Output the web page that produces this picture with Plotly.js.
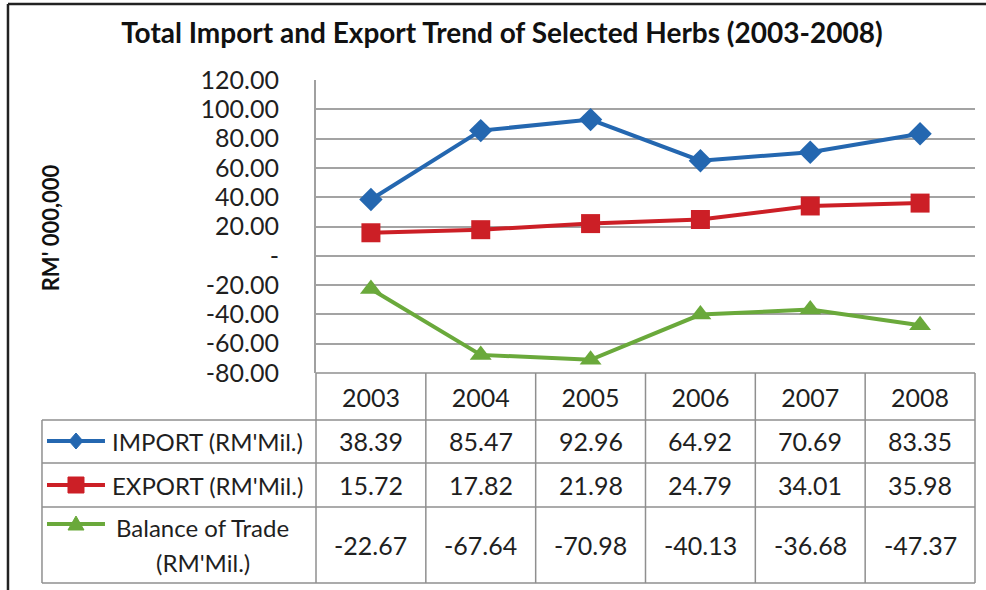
<!DOCTYPE html>
<html><head><meta charset="utf-8">
<script src="https://cdn.plot.ly/plotly-3.0.1.min.js"></script>
<style>body{margin:0;background:#fff}</style></head><body>
<div id="chart" style="width:986px;height:590px"></div>
<script>
const years = ['2003','2004','2005','2006','2007','2008'];
const importVals = [38.39, 85.47, 92.96, 64.92, 70.69, 83.35];
const exportVals = [15.72, 17.82, 21.98, 24.79, 34.01, 35.98];
const balanceVals = [-22.67, -67.64, -70.98, -40.13, -36.68, -47.37];
const seriesNames = ["IMPORT (RM'Mil.)", "EXPORT (RM'Mil.)", "Balance of Trade", "(RM'Mil.)"];
const yTickVals = [120, 100, 80, 60, 40, 20, 0, -20, -40, -60, -80];
const yTickText = ['120.00','100.00','80.00','60.00','40.00','20.00','-','-20.00','-40.00','-60.00','-80.00'];

const FONT = 'Lato, "Open Sans", sans-serif';
const colors = ['#2467b0', '#cc1f26', '#6aa93b'];
const TXT = '#1f1f1f';
const GRID = '#a3a3a3';
const TBL = '#8f8f8f';

const allVals = [importVals, exportVals, balanceVals];
const symbols = ['diamond', 'square', 'triangle-up'];
const sizes = [18, 19, 19];

const traces = allVals.map((v, s) => ({
  type: 'scatter', mode: 'lines+markers', x: years, y: v,
  name: seriesNames[s], showlegend: false, cliponaxis: false,
  line: {color: colors[s], width: 4},
  marker: {symbol: symbols[s], size: sizes[s], color: colors[s]}
}));

// table geometry (paper fractions)
const rowY = [-0.2321, -0.3823, -0.587];
const hLines = [-0.160, -0.307, -0.457, -0.717];
const tblLeft = -0.4158;
const shapes = [];
const ln = (x0, y0, x1, y1, color, w) => shapes.push({type:'line', xref:'paper', yref:'paper', x0, y0, x1, y1, line:{color, width:w}, layer:'above'});
ln(0, 0, 1, 0, TBL, 1.5);
hLines.forEach(y => ln(tblLeft, y, 1, y, TBL, 1.5));
ln(tblLeft, hLines[0], tblLeft, hLines[3], TBL, 1.5);
for (let k = 0; k <= years.length; k++) ln(k / years.length, 0, k / years.length, hLines[3], TBL, 1.5);
// outer frame
ln(-0.4674, 1.2594, -0.4674, -0.77, '#222', 2.5);
ln(-0.4674, 1.2594, 1.05, 1.2594, '#222', 2.5);

// legend keys inside table
const keyY = [rowY[0], rowY[1], -0.5154];
const keyX0 = -0.4082, keyX1 = -0.3202, keyXc = -0.3642;
const keyPaths = ['M0,8L7,0L0,-8L-7,0Z', 'M-8,-8L8,-8L8,8L-8,8Z', 'M-8,-6L8,-6L0,8Z'];
keyY.forEach((y, s) => {
  shapes.push({type:'line', xref:'paper', yref:'paper', x0:keyX0, x1:keyX1, y0:y, y1:y, line:{color:colors[s], width:4}, layer:'above'});
  shapes.push({type:'path', xref:'paper', yref:'paper', xsizemode:'pixel', ysizemode:'pixel', xanchor:keyXc, yanchor:y,
    path: keyPaths[s], fillcolor: colors[s], line:{color:colors[s], width:1}, layer:'above'});
});

const annotations = [];
allVals.forEach((v, s) => v.forEach((val, i) => annotations.push({
  x: i, xref:'x', xanchor:'center', y: rowY[s], yref:'paper', yanchor:'middle', text: val.toFixed(2), showarrow:false,
  font:{family:FONT, size:25, color:TXT}
})));
const lab = (x, y, text, xanchor) => annotations.push({x, xref:'paper', xanchor, y, yref:'paper', yanchor:'middle', text, showarrow:false, font:{family:FONT, size:24, color:TXT}});
lab(-0.3126, rowY[0], seriesNames[0], 'left');
lab(-0.3126, rowY[1], seriesNames[1], 'left');
lab(-0.1715, -0.5256, seriesNames[2], 'center');
lab(-0.1715, -0.6451, seriesNames[3], 'center');
annotations.push({x:-0.4036, xref:'paper', xanchor:'center', y:0.494, yref:'paper', yanchor:'middle', text:"<b>RM' 000,000</b>", textangle:-90, showarrow:false, font:{family:FONT, size:22, color:'#111'}});

const layout = {
  width: 986, height: 590,
  margin: {l:316, r:11, t:80, b:217},
  paper_bgcolor:'#fff', plot_bgcolor:'#fff',
  title: {text:'<b>Total Import and Export Trend of Selected Herbs (2003-2008)</b>', xref:'container', yref:'container', x:0.509, y:0.944, xanchor:'center', yanchor:'middle', font:{family:FONT, size:28, color:'#111'}},
  xaxis: {type:'category', range:[-0.5, 5.5], showgrid:false, zeroline:false, showline:false, ticks:'', ticklabelstandoff:8,
    tickfont:{family:FONT, size:25, color:TXT}, fixedrange:true},
  yaxis: {range:[-80, 120], tickvals:yTickVals, ticktext:yTickText, showgrid:true, gridcolor:GRID, gridwidth:2,
    zeroline:false, showline:true, linecolor:'#a0a0a0', linewidth:2, ticks:'', ticklabelstandoff:30,
    tickfont:{family:FONT, size:25, color:TXT}, fixedrange:true},
  shapes, annotations, showlegend:false
};
Plotly.newPlot('chart', traces, layout, {displayModeBar:false, staticPlot:true});
</script>
</body></html>
